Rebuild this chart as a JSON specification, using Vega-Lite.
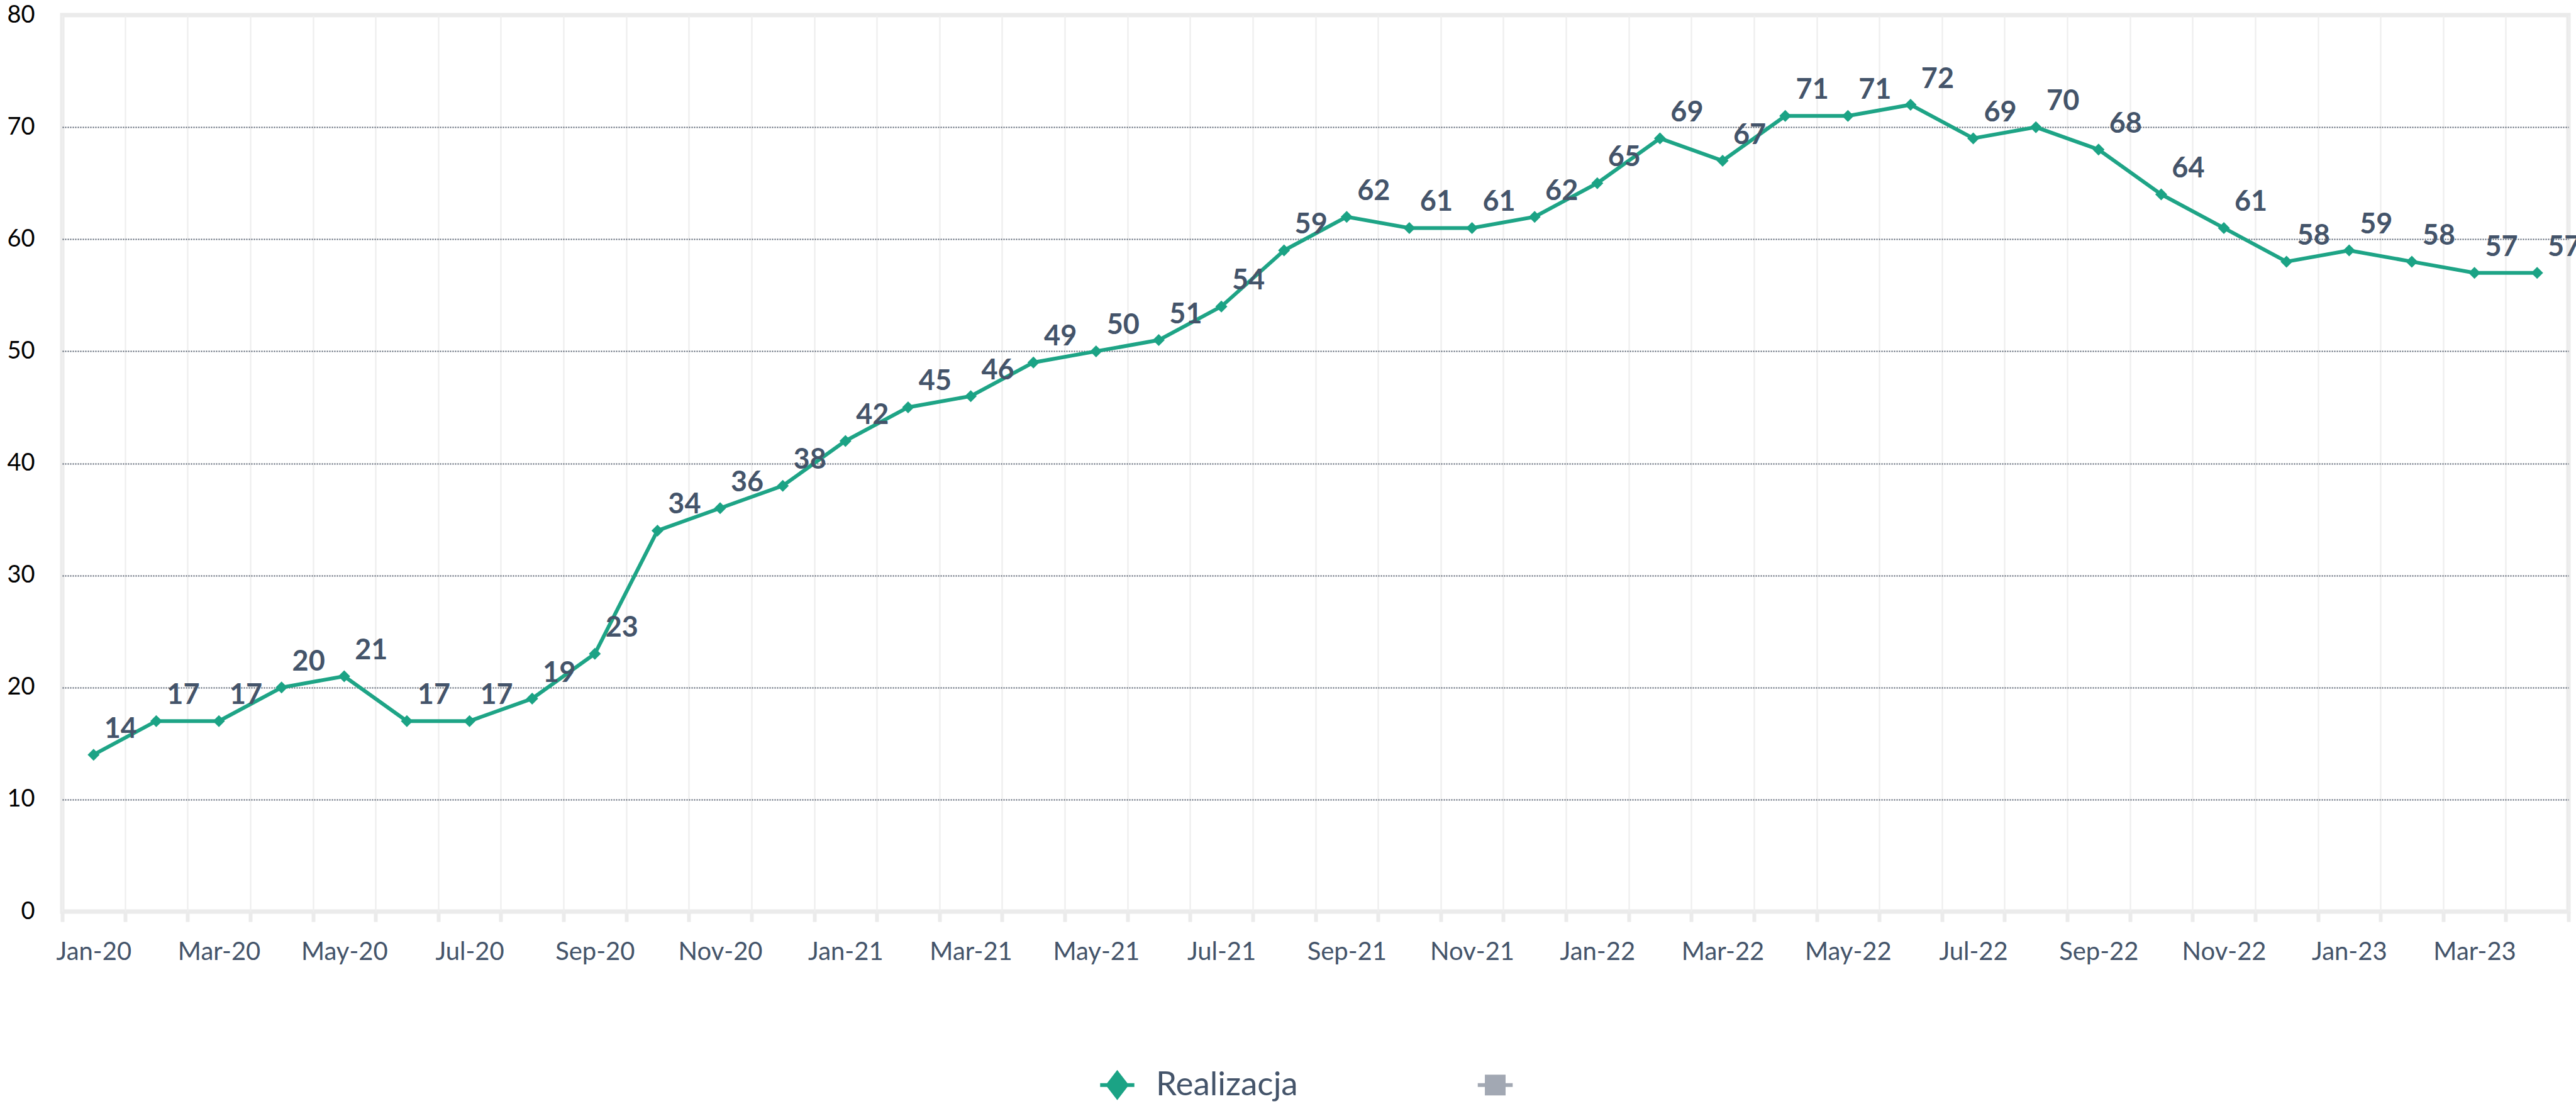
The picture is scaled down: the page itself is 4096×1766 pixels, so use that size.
{
  "$schema": "https://vega.github.io/schema/vega-lite/v6.json",
  "width": 3985,
  "height": 1425,
  "autosize": {"type": "none"},
  "padding": {"left": 99, "top": 24, "right": 12, "bottom": 317},
  "background": "white",
  "config": {
    "font": "Lato",
    "view": {"stroke": "#ebebeb", "strokeWidth": 7},
    "axisX": {
      "title": null,
      "domain": false,
      "tickBand": "extent",
      "tickColor": "#ebebeb",
      "tickWidth": 6,
      "tickSize": 16,
      "grid": true,
      "gridColor": "#eeeeee",
      "gridWidth": 2.3,
      "labelAngle": 0,
      "labelFont": "Lato",
      "labelFontSize": 40,
      "labelColor": "#44546a",
      "labelPadding": 28,
      "labelOverlap": false
    },
    "axisY": {
      "title": null,
      "domain": false,
      "ticks": false,
      "tickSize": 0,
      "grid": true,
      "gridColor": "#505a6a",
      "gridDash": [2, 2],
      "gridWidth": 1.8,
      "labelFont": "Lato",
      "labelFontSize": 38,
      "labelColor": "#000000",
      "labelPadding": 44
    }
  },
  "data": {
    "values": [
      {"month": "Jan-20", "value": 14, "series": "Realizacja"},
      {"month": "Feb-20", "value": 17, "series": "Realizacja"},
      {"month": "Mar-20", "value": 17, "series": "Realizacja"},
      {"month": "Apr-20", "value": 20, "series": "Realizacja"},
      {"month": "May-20", "value": 21, "series": "Realizacja"},
      {"month": "Jun-20", "value": 17, "series": "Realizacja"},
      {"month": "Jul-20", "value": 17, "series": "Realizacja"},
      {"month": "Aug-20", "value": 19, "series": "Realizacja"},
      {"month": "Sep-20", "value": 23, "series": "Realizacja"},
      {"month": "Oct-20", "value": 34, "series": "Realizacja"},
      {"month": "Nov-20", "value": 36, "series": "Realizacja"},
      {"month": "Dec-20", "value": 38, "series": "Realizacja"},
      {"month": "Jan-21", "value": 42, "series": "Realizacja"},
      {"month": "Feb-21", "value": 45, "series": "Realizacja"},
      {"month": "Mar-21", "value": 46, "series": "Realizacja"},
      {"month": "Apr-21", "value": 49, "series": "Realizacja"},
      {"month": "May-21", "value": 50, "series": "Realizacja"},
      {"month": "Jun-21", "value": 51, "series": "Realizacja"},
      {"month": "Jul-21", "value": 54, "series": "Realizacja"},
      {"month": "Aug-21", "value": 59, "series": "Realizacja"},
      {"month": "Sep-21", "value": 62, "series": "Realizacja"},
      {"month": "Oct-21", "value": 61, "series": "Realizacja"},
      {"month": "Nov-21", "value": 61, "series": "Realizacja"},
      {"month": "Dec-21", "value": 62, "series": "Realizacja"},
      {"month": "Jan-22", "value": 65, "series": "Realizacja"},
      {"month": "Feb-22", "value": 69, "series": "Realizacja"},
      {"month": "Mar-22", "value": 67, "series": "Realizacja"},
      {"month": "Apr-22", "value": 71, "series": "Realizacja"},
      {"month": "May-22", "value": 71, "series": "Realizacja"},
      {"month": "Jun-22", "value": 72, "series": "Realizacja"},
      {"month": "Jul-22", "value": 69, "series": "Realizacja"},
      {"month": "Aug-22", "value": 70, "series": "Realizacja"},
      {"month": "Sep-22", "value": 68, "series": "Realizacja"},
      {"month": "Oct-22", "value": 64, "series": "Realizacja"},
      {"month": "Nov-22", "value": 61, "series": "Realizacja"},
      {"month": "Dec-22", "value": 58, "series": "Realizacja"},
      {"month": "Jan-23", "value": 59, "series": "Realizacja"},
      {"month": "Feb-23", "value": 58, "series": "Realizacja"},
      {"month": "Mar-23", "value": 57, "series": "Realizacja"},
      {"month": "Apr-23", "value": 57, "series": "Realizacja"}
    ]
  },
  "encoding": {
    "x": {
      "field": "month",
      "type": "ordinal",
      "sort": null,
      "scale": {"type": "band", "paddingInner": 0, "paddingOuter": 0},
      "axis": {
        "labelExpr": "indexof(['Jan','Mar','May','Jul','Sep','Nov'], slice(datum.label, 0, 3)) >= 0 ? datum.label : ''"
      }
    },
    "y": {
      "field": "value",
      "type": "quantitative",
      "scale": {"domain": [0, 80], "nice": false, "zero": true},
      "axis": {
        "values": [0, 10, 20, 30, 40, 50, 60, 70, 80],
        "gridOpacity": {"condition": {"test": "datum.value === 0 || datum.value === 80", "value": 0}, "value": 1}
      }
    }
  },
  "layer": [
    {
      "mark": {"type": "line", "color": "#1ea486", "strokeWidth": 6}
    },
    {
      "mark": {"type": "point", "filled": true, "opacity": 1, "size": 361, "shape": "diamond", "color": "#1ba385"}
    },
    {
      "mark": {"type": "point", "filled": true, "opacity": 0, "size": 361},
      "encoding": {
        "color": {
          "field": "series",
          "type": "nominal",
          "scale": {"domain": ["Realizacja", " "], "range": ["#1ba385", "#a2a8b3"]},
          "legend": {
            "orient": "none",
            "legendX": 1651,
            "legendY": 1674,
            "direction": "horizontal",
            "title": null,
            "padding": 0,
            "labelFont": "Lato",
            "labelFontSize": 53,
            "labelColor": "#44546a",
            "labelLimit": 1000,
            "symbolSize": 1369,
            "symbolOpacity": 1,
            "symbolStrokeWidth": 0,
            "labelOffset": 35,
            "columnPadding": 285
          }
        },
        "shape": {
          "field": "series",
          "type": "nominal",
          "scale": {
            "domain": ["Realizacja", " "],
            "range": [
              "M0,-1.3L1,0L0,1.3L-1,0Z M-1.47,-0.16L1.47,-0.16L1.47,0.16L-1.47,0.16Z",
              "M-0.89,-0.89L0.89,-0.89L0.89,0.89L-0.89,0.89Z M-1.5,-0.16L1.5,-0.16L1.5,0.16L-1.5,0.16Z"
            ]
          },
          "legend": {
            "orient": "none",
            "legendX": 1651,
            "legendY": 1674,
            "direction": "horizontal",
            "title": null,
            "padding": 0,
            "labelFont": "Lato",
            "labelFontSize": 53,
            "labelColor": "#44546a",
            "labelLimit": 1000,
            "symbolSize": 1369,
            "symbolOpacity": 1,
            "symbolStrokeWidth": 0,
            "labelOffset": 35,
            "columnPadding": 285
          }
        }
      }
    },
    {
      "mark": {
        "type": "text",
        "font": "Lato",
        "fontWeight": "bold",
        "fontSize": 45,
        "color": "#44546a",
        "dx": 43,
        "dy": -41,
        "align": "center",
        "baseline": "middle"
      },
      "encoding": {"text": {"field": "value", "type": "quantitative"}}
    }
  ]
}
